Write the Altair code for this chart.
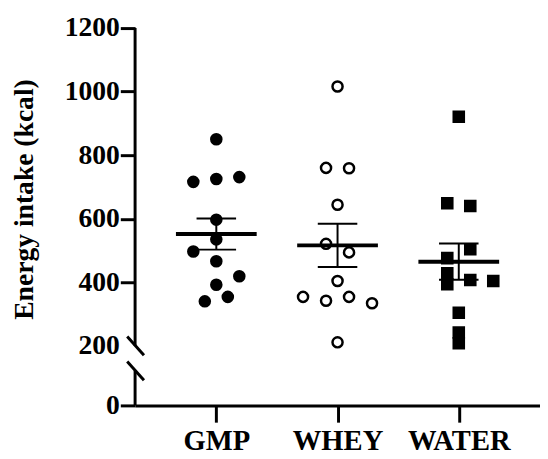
import altair as alt
import pandas as pd

# ---- data ----
groups = ["GMP", "WHEY", "WATER"]

gmp_values = [850, 716, 725, 731, 597, 535, 497, 466, 419, 392, 340, 354]
gmp_slots = [0, -2, 0, 2, 0, 0, -2, 0, 2, 0, -1, 1]

whey_values = [1016, 760, 759, 644, 521, 494, 404, 354, 342, 354, 334, 211]
whey_slots = [0, -1, 1, 0, -1, 1, 0, -3, -1, 1, 3, 0]

water_values = [921, 649, 640, 504, 476, 428, 394, 407, 404, 304, 242, 208]
water_slots = [0, -1, 1, 1, -1, -1, -1, 1, 3, 0, 0, 0]

y_ticks = [0, 200, 400, 600, 800, 1000, 1200]
break_low = 116   # top of lower axis segment
break_high = 200  # bottom of upper axis segment

# ---- build table ----
rows = []
for gi, (g, vals, slots) in enumerate(zip(groups,
                                          [gmp_values, whey_values, water_values],
                                          [gmp_slots, whey_slots, water_slots])):
    for v, s in zip(vals, slots):
        rows.append({"group": g, "gi": gi, "value": v, "slot": s})
df = pd.DataFrame(rows)

FONT = "Liberation Serif"
W, H = 411, 383
slot_unit = 11.67 / (W / 3.34)  # swarm column width in x-data units

yscale = alt.Scale(domain=[0, 200, 1200], range=[H, 322.5, 0], nice=False, zero=False)
xscale = alt.Scale(domain=[-0.67, 2.67], nice=False, zero=False)

label_expr = "[" + ",".join("'%s'" % g for g in groups) + "][datum.value]"

base = alt.Chart(df)

points = base.transform_calculate(
    xpos="datum.gi + datum.slot * %f" % slot_unit
).mark_point(filled=True, opacity=1, strokeWidth=2.5, size=105).encode(
    x=alt.X("xpos:Q", scale=xscale,
            axis=alt.Axis(values=[0, 1, 2], labelExpr=label_expr, title=None,
                          grid=False, tickSize=17, tickWidth=3, tickColor="black",
                          domainWidth=3, domainColor="black",
                          labelFont=FONT, labelFontSize=29, labelFontWeight="bold",
                          labelColor="black", labelPadding=5)),
    y=alt.Y("value:Q", scale=yscale,
            axis=alt.Axis(values=y_ticks, format="d", domain=False, grid=False,
                          tickSize=15, tickWidth=3, tickColor="black",
                          tickOpacity={"condition": {"test": "datum.value === 200", "value": 0}, "value": 1},
                          labelFont=FONT, labelFontSize=28, labelFontWeight="bold",
                          labelColor="black", labelPadding=1,
                          title="Energy intake (kcal)", titleFont=FONT, titleFontSize=28,
                          titleFontWeight="bold", titleColor="black",
                          titleAngle=-90, titleAlign="center", titleBaseline="middle",
                          titleX=-112, titleY=173.5)),
    shape=alt.Shape("group:N", scale=alt.Scale(domain=groups, range=["circle", "circle", "square"]), legend=None),
    fill=alt.Fill("group:N", scale=alt.Scale(domain=groups, range=["black", "white", "black"]), legend=None),
    stroke=alt.value("black"),
)

stats = base.transform_aggregate(
    mean="mean(value)", se="stderr(value)", groupby=["group", "gi"]
).transform_calculate(
    lo="datum.mean - datum.se",
    hi="datum.mean + datum.se",
    mx0="datum.gi - 0.333",
    mx1="datum.gi + 0.333",
    cx0="datum.gi - 0.163",
    cx1="datum.gi + 0.163",
)

mean_line = stats.mark_rule(strokeWidth=4, color="black").encode(
    x=alt.X("mx0:Q", scale=xscale), x2="mx1:Q", y=alt.Y("mean:Q", scale=yscale))
err_v = stats.mark_rule(strokeWidth=2, color="black").encode(
    x=alt.X("gi:Q", scale=xscale), y=alt.Y("lo:Q", scale=yscale), y2="hi:Q")
cap_lo = stats.mark_rule(strokeWidth=2, color="black").encode(
    x=alt.X("cx0:Q", scale=xscale), x2="cx1:Q", y=alt.Y("lo:Q", scale=yscale))
cap_hi = stats.mark_rule(strokeWidth=2, color="black").encode(
    x=alt.X("cx0:Q", scale=xscale), x2="cx1:Q", y=alt.Y("hi:Q", scale=yscale))

seg_df = pd.DataFrame({"y0": [0, break_high], "y1": [break_low, 1200]})
axis_line = alt.Chart(seg_df).mark_rule(strokeWidth=3, color="black").encode(
    x=alt.value(0), y=alt.Y("y0:Q", scale=yscale), y2="y1:Q")

slash_df = pd.DataFrame({"b": [break_high, break_low]})
slashes = alt.Chart(slash_df).mark_rule(strokeWidth=3, color="black", yOffset=-9.5, y2Offset=9.5).encode(
    x=alt.value(-8), x2=alt.value(9), y=alt.Y("b:Q", scale=yscale), y2="b:Q")

chart = alt.layer(axis_line, slashes, points, mean_line, err_v, cap_lo, cap_hi).properties(
    width=W, height=H,
    autosize="none",
    padding={"left": 129, "top": 17, "right": 0, "bottom": 51},
    background="white",
).configure_view(stroke=None)

chart.save("out.html", embed_options={"renderer": "svg", "actions": False})
